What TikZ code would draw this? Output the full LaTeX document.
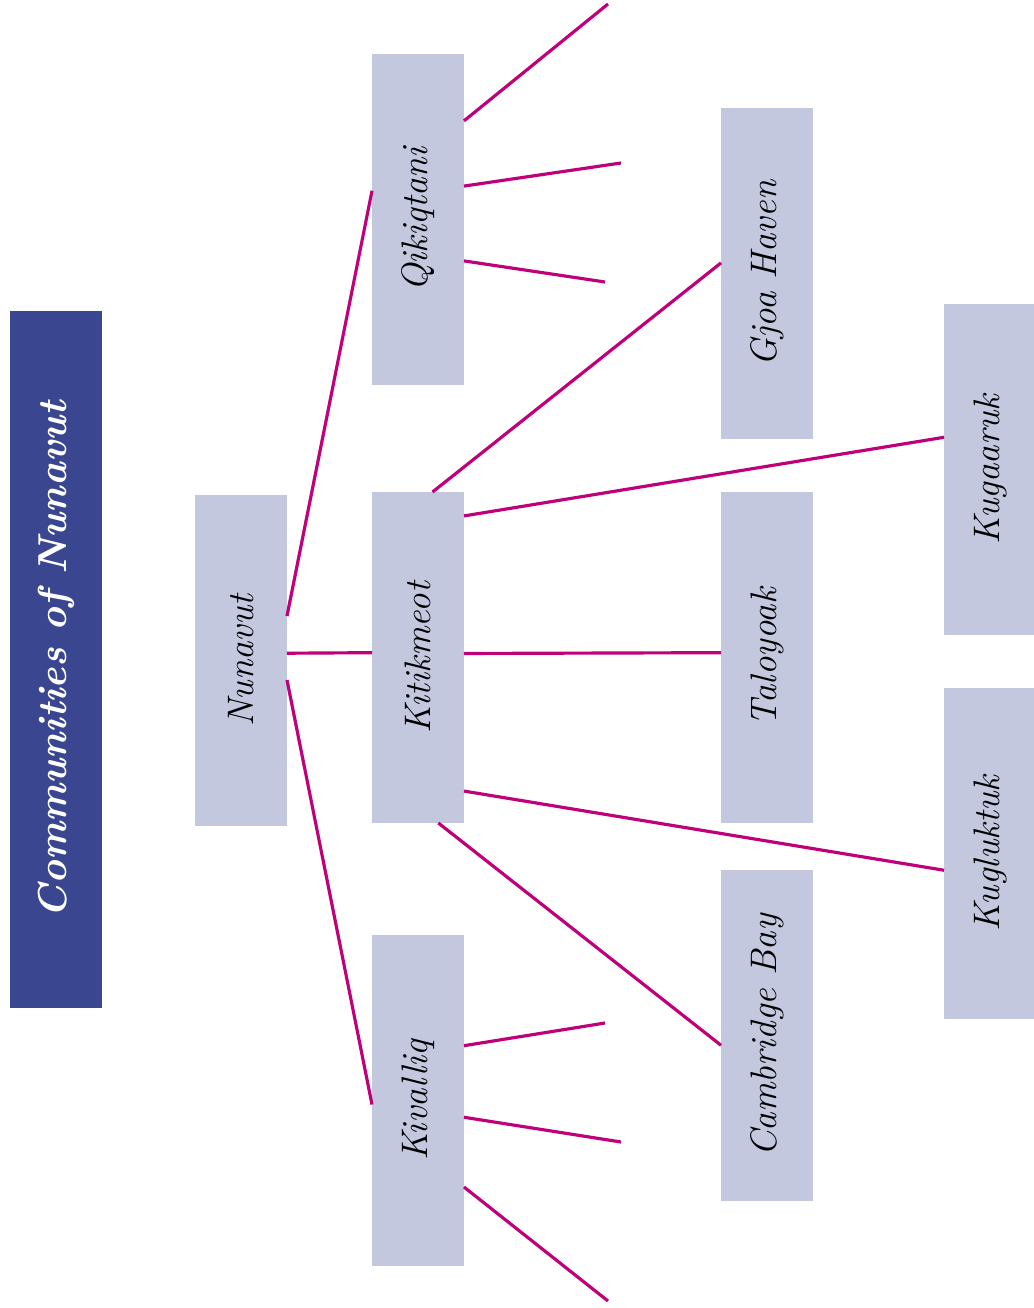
\documentclass[tikz,border=0pt]{standalone}
\usepackage{tikz}
\definecolor{boxfill}{RGB}{195,200,223}
\definecolor{titlefill}{RGB}{58,70,144}
\definecolor{linkcol}{RGB}{192,0,122}

\begin{document}
\begin{tikzpicture}[line cap=round,line join=round,x=0.02cm,y=-0.02cm,
  region/.style={fill=boxfill,inner sep=0pt,outer sep=0pt,minimum width=1.84cm,minimum height=6.62cm,font=\fontsize{21}{25}\selectfont\itshape},
  heading/.style={fill=titlefill,text=white,inner sep=0pt,outer sep=0pt,minimum width=1.84cm,minimum height=13.94cm,font=\fontsize{23}{27}\selectfont\bfseries\itshape},
  link/.style={draw=linkcol,line width=1.8pt,line cap=butt}]

\useasboundingbox (0,0) rectangle (1034,1308);

\node[heading] (title) at (56,659.5) {\rotatebox{90}{Communities of Nunavut}};

\node[region] (nun) at (241,660.5) {\rotatebox{90}{Nunavut}};
\node[region] (qik) at (418,219.5) {\rotatebox{90}{Qikiqtani}};
\node[region] (kit) at (418,657.5) {\rotatebox{90}{Kitikmeot}};
\node[region] (kiv) at (418,1100.5) {\rotatebox{90}{Kivalliq}};
\node[region] (gjo) at (767,273.5) {\rotatebox{90}{Gjoa Haven}};
\node[region] (tal) at (767,657.5) {\rotatebox{90}{Taloyoak}};
\node[region] (cam) at (767,1035.5) {\rotatebox{90}{Cambridge Bay}};
\node[region] (kug) at (990,469.5) {\rotatebox{90}{Kugaaruk}};
\node[region] (kgl) at (990,853.5) {\rotatebox{90}{Kugluktuk}};

% loose ends
\coordinate (q1) at (608,4);
\coordinate (q2) at (621,163);
\coordinate (q3) at (605,282);
\coordinate (v1) at (605,1023);
\coordinate (v2) at (621,1142);
\coordinate (v3) at (608,1301);

\draw[link] (nun.44) -- (qik.148);
\draw[link] (nun.9.3) -- (kit.174.4);
\draw[link] (nun.-23) -- (kiv.185.5);

\draw[link] (qik.65.6) -- (q1);
\draw[link] (qik.36) -- (q2);
\draw[link] (qik.-42) -- (q3);

\draw[link] (kiv.50.8) -- (v1);
\draw[link] (kiv.-20.8) -- (v2);
\draw[link] (kiv.-62) -- (v3);

\draw[link] (kit.85.9) -- (gjo.167);
\draw[link] (kit.72.3) -- (kug.145);
\draw[link] (kit.5.6) -- (tal.174.4);
\draw[link] (kit.-71.7) -- (kgl.200);
\draw[link] (kit.-83.1) -- (cam.192.9);

\end{tikzpicture}
\end{document}
